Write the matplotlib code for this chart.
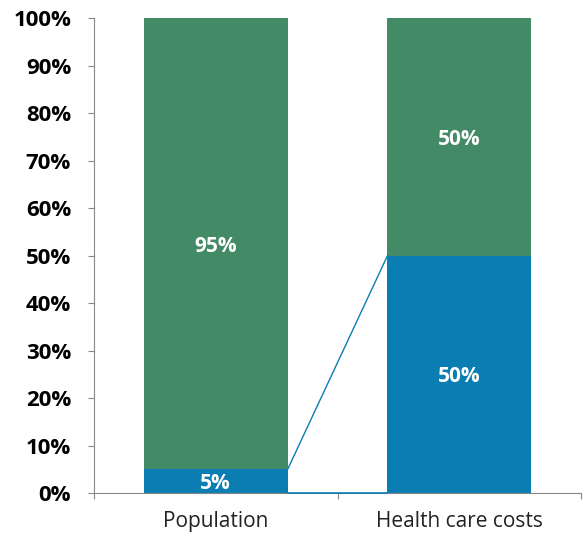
import matplotlib.pyplot as plt

categories = ["Population", "Health care costs"]
blue_vals = [5, 50]
green_vals = [95, 50]
blue_labels = ["5%", "50%"]
green_labels = ["95%", "50%"]

blue = "#0a7db2"
green = "#428b66"
bar_w = 0.59

plt.rcParams["font.family"] = ["Open Sans", "DejaVu Sans"]

fig = plt.figure(figsize=(5.84, 5.36), dpi=100)
ax = fig.add_axes([0.161, 0.080, 0.834, 0.886])

x = [0, 1]
ax.bar(x, blue_vals, width=bar_w, color=blue, zorder=2)
ax.bar(x, green_vals, width=bar_w, bottom=blue_vals, color=green, zorder=2)

# connector lines between the two blue segments
x0 = x[0] + bar_w / 2
x1 = x[1] - bar_w / 2
ax.plot([x0, x1], [blue_vals[0], blue_vals[1]], color=blue, lw=1, zorder=3)
ax.plot([x0, x1], [0, 0], color=blue, lw=1.2, zorder=3, clip_on=False)

for i in range(2):
    ax.text(x[i], blue_vals[i] / 2, blue_labels[i], ha="center",
            va="center_baseline", color="white", fontsize=15, fontweight="bold")
    ax.text(x[i], blue_vals[i] + green_vals[i] / 2, green_labels[i], ha="center",
            va="center_baseline", color="white", fontsize=15, fontweight="bold")

ax.set_xlim(-0.5, 1.5)
ax.set_ylim(0, 100)
ax.set_yticks(range(0, 101, 10))
ax.set_yticklabels([f"{v}%" for v in range(0, 101, 10)], fontsize=16,
                   fontweight="bold")
ax.set_xticks([-0.5, 0.5, 1.5])
ax.set_xticklabels([])
ax.set_xticks(x, minor=True)
ax.set_xticklabels(categories, minor=True, fontsize=15, color="#222222")
ax.tick_params(axis="x", which="minor", length=0, pad=13)
ax.tick_params(axis="both", which="major", length=4.5, color="#888888", direction="out")
ax.tick_params(axis="y", pad=12)

for s in ["top", "right"]:
    ax.spines[s].set_visible(False)
for s in ["left", "bottom"]:
    ax.spines[s].set_color("#888888")

fig.savefig("out.png", dpi=100)
